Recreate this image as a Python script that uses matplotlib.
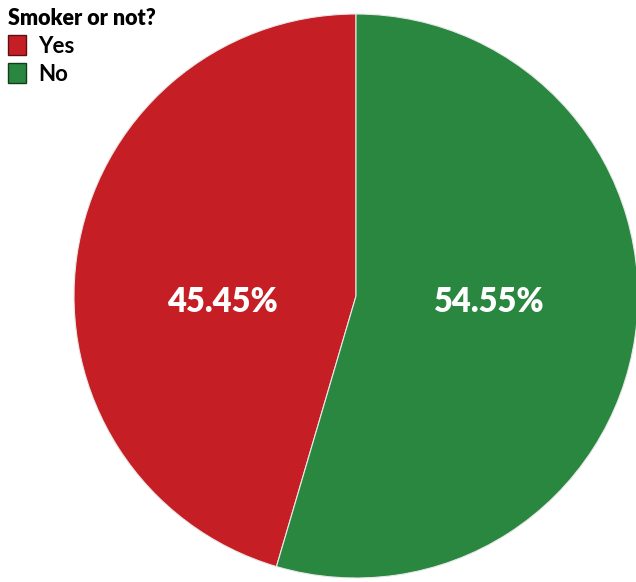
import matplotlib
matplotlib.use("Agg")
import matplotlib.pyplot as plt
from matplotlib.patches import Patch

plt.rcParams['font.family'] = ['Lato', 'DejaVu Sans']

categories = ["Yes", "No"]
values = [45.45, 54.55]
colors = ["#C51F25", "#2A873F"]
edge_colors = ["#5a1012", "#123d1c"]
legend_title = "Smoker or not?"

fig = plt.figure(figsize=(6.36, 5.82), dpi=100)
ax = fig.add_axes([74 / 636, 4 / 582, 564 / 636, 564 / 582])

wedges, _ = ax.pie(values, colors=colors, startangle=90, counterclock=True,
                   radius=1.0, wedgeprops=dict(edgecolor="#e8e8e8", linewidth=0.8))
ax.set_xlim(-1, 1)
ax.set_ylim(-1, 1)
ax.set_aspect("equal")

# percentage labels sit on the horizontal midline of each side
total = sum(values)
for w, v in zip(wedges, values):
    mid = (w.theta1 + w.theta2) / 2
    side = -1 if 90 < mid < 270 else 1
    ax.text(side * 0.473, -0.02, f"{v / total * 100:.2f}%", ha="center", va="center",
            color="white", fontsize=23.5, fontweight="heavy")

handles = [Patch(facecolor=c, edgecolor=e, linewidth=1.0) for c, e in zip(colors, edge_colors)]
leg = fig.legend(handles, categories, title=legend_title, loc="upper left",
                 bbox_to_anchor=(0.0, 1.0), frameon=False, borderaxespad=0.25,
                 alignment="left", fontsize=16, handlelength=0.8, handleheight=0.95,
                 handletextpad=0.55, labelspacing=0.3, borderpad=0.1,
                 title_fontproperties={"weight": "heavy", "size": 15.5})
for t in leg.get_texts():
    t.set_fontweight("bold")

fig.savefig("out.png", dpi=100)
